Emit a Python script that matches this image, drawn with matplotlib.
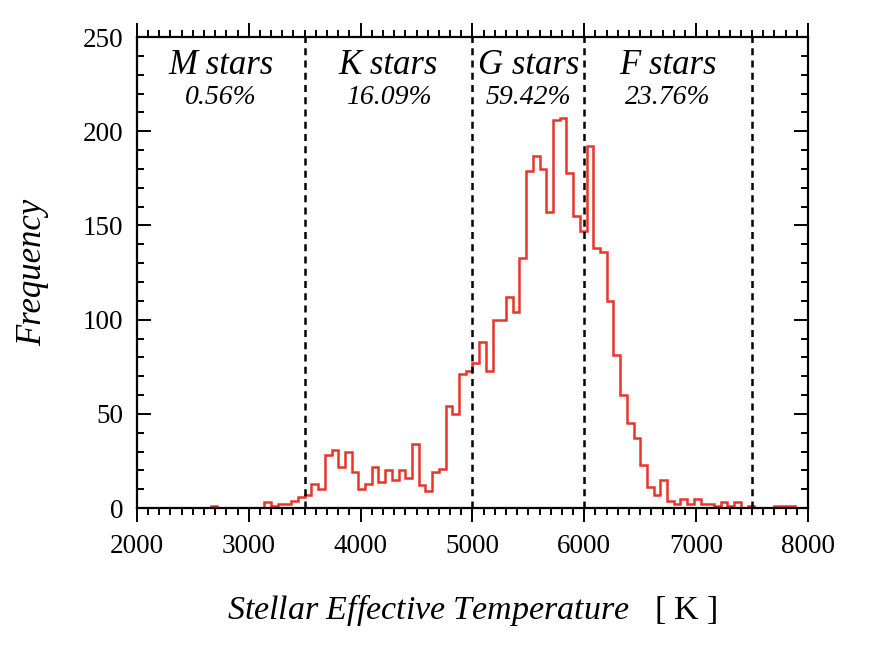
import matplotlib
matplotlib.use('Agg')
import matplotlib.pyplot as plt
from matplotlib.ticker import MultipleLocator
import numpy as np

plt.rcParams['font.family'] = ['Liberation Serif', 'DejaVu Serif']
plt.rcParams['mathtext.fontset'] = 'custom'
plt.rcParams['mathtext.rm'] = 'Liberation Serif'
plt.rcParams['mathtext.it'] = 'Liberation Serif:italic'

# histogram of stellar Teff, 60 K bins from 2000 to 8000 K
binEdges = np.linspace(2000, 8000, 101)
counts = [0, 0, 0, 0, 0, 0, 0, 0, 0, 0,
          0, 1, 0, 0, 0, 0, 0, 0, 0, 3,
          1, 2, 2, 4, 6, 7, 13, 10, 28, 31,
          22, 30, 19, 10, 13, 22, 14, 20, 15, 20,
          16, 34, 12, 9, 19, 21, 54, 50, 71, 73,
          77, 88, 73, 100, 100, 112, 104, 133, 179, 187,
          180, 157, 206, 207, 178, 155, 147, 192, 138, 136,
          110, 81, 60, 45, 37, 23, 11, 7, 15, 4,
          2, 5, 2, 5, 2, 2, 1, 3, 1, 3,
          0, 1, 0, 0, 0, 1, 1, 1, 0, 0]

# spectral class borders and labels
classBorders = [3500, 5000, 6000, 7500]
classNames = ['M stars', 'K stars', 'G stars', 'F stars']
classCenters = [2750, 4250, 5500, 6750]
classPercent = ['0.56%', '16.09%', '59.42%', '23.76%']

fig = plt.figure(figsize=(8.72, 6.59), dpi=100)
ax = fig.add_axes([0.157, 0.229, 0.7696, 0.7147])

ax.stairs(counts, binEdges, color='#e8342a', lw=1.8, baseline=None)
for b in classBorders:
    ax.axvline(b, color='black', lw=1.8, ls=(0, (2.8, 2.1)))

for name, xc, pc in zip(classNames, classCenters, classPercent):
    ax.text(xc, 235, name, ha='center', va='center', fontsize=25, style='italic')
    ax.text(xc, 218, pc, ha='center', va='center', fontsize=20, style='italic')

ax.set_xlim(2000, 8000)
ax.set_ylim(0, 250)
ax.xaxis.set_major_locator(MultipleLocator(1000))
ax.xaxis.set_minor_locator(MultipleLocator(100))
ax.yaxis.set_major_locator(MultipleLocator(50))
ax.yaxis.set_minor_locator(MultipleLocator(10))

ax.tick_params(axis='x', which='both', direction='out', top=True, bottom=True,
               width=1.4, labelsize=19.5, pad=9)
ax.tick_params(axis='y', which='both', direction='in', left=True, right=True,
               width=1.4, labelsize=19.5, pad=10)
ax.tick_params(which='major', length=10)
ax.tick_params(which='minor', length=5)
for sp in ax.spines.values():
    sp.set_linewidth(1.6)

ax.set_ylabel('Frequency', fontsize=25, style='italic')
ax.yaxis.set_label_coords(-0.13, 0.5)
ax.set_xlabel(r'$\mathit{Stellar\ Effective\ Temperature}$   [ K ]', fontsize=24.5)
ax.xaxis.set_label_coords(0.5, -0.178)
ax.xaxis.label.set_va('top')

fig.savefig('out.png', dpi=100)
